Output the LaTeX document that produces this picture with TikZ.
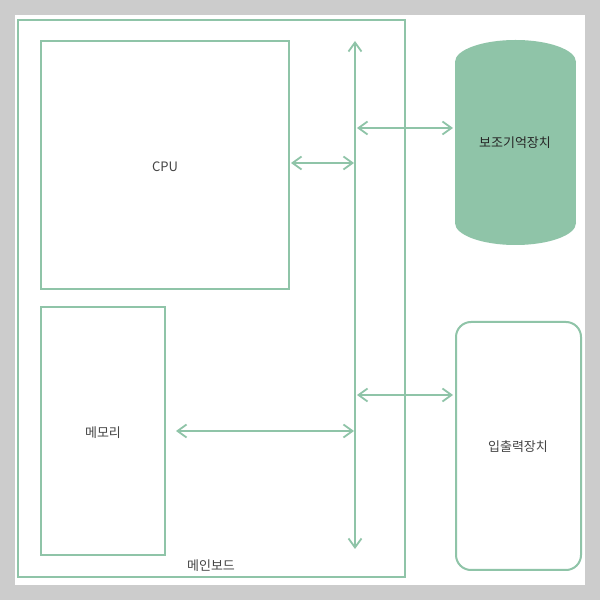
\documentclass[tikz,border=0pt]{standalone}
\usepackage{fontspec}
\setmainfont{Noto Sans CJK KR}
\usetikzlibrary{arrows.meta}
\definecolor{grn}{HTML}{8FC4A8}
\definecolor{txt}{HTML}{444444}
\definecolor{bg}{HTML}{CCCCCC}
\tikzset{
  box/.style={draw=grn, line width=2pt, inner sep=0pt, outer sep=0pt, anchor=south west},
  lbl/.style={text=txt, font=\fontsize{13}{15}\selectfont, inner sep=0pt},
  conn/.style={draw=grn, line width=2pt, {Straight Barb[length=9pt,width=13pt,line width=1.8pt]}-{Straight Barb[length=9pt,width=13pt,line width=1.8pt]}}
}
\begin{document}
\begin{tikzpicture}[x=1pt,y=1pt]
\fill[bg] (0,0) rectangle (600,600);
\useasboundingbox (0,0) rectangle (600,600);
\fill[white] (15,15) rectangle (585,585);
% mainboard
\node[box, minimum width=387pt, minimum height=557pt] (mb) at (18,23) {};
\node[lbl] (mblbl) at (211,34) {메인보드};
% CPU
\node[box, minimum width=248pt, minimum height=248pt] (cpu) at (41,311) {};
\node[lbl] at (165,433.5) {CPU};
% memory
\node[box, minimum width=124pt, minimum height=248pt] (mem) at (41,45) {};
\node[lbl] at (103,167.5) {메모리};
% storage cylinder
\fill[grn] (455,377) rectangle (576,538);
\fill[grn] (515.5,538) ellipse[x radius=60.5, y radius=22];
\fill[grn] (515.5,377) ellipse[x radius=60.5, y radius=22];
\node[inner sep=0pt, minimum width=121pt, minimum height=205pt] (sto) at (515.5,457.5) {};
\node[lbl, text=black!85] at (515,457) {보조기억장치};
% IO
\node[box, rounded corners=15pt, minimum width=125pt, minimum height=248pt] (io) at (456,30) {};
\node[lbl] at (518,153) {입출력장치};
% bus
\coordinate (busTop) at (355,559);
\coordinate (busBot) at (355,51);
\draw[conn] (busTop) -- (busBot);
\coordinate (bCpu) at (354,437);
\coordinate (cE) at (291,437);
\coordinate (bMem) at (354,169);
\coordinate (bSto) at (357,472);
\coordinate (sW) at (453,472);
\coordinate (bIo) at (357,205);
\coordinate (iW) at (453,205);
\coordinate (mMem) at (176,169);
\draw[conn] (cE) -- (bCpu);
\draw[conn] (mMem) -- (bMem);
\draw[conn] (bSto) -- (sW);
\draw[conn] (bIo) -- (iW);
\end{tikzpicture}
\end{document}
